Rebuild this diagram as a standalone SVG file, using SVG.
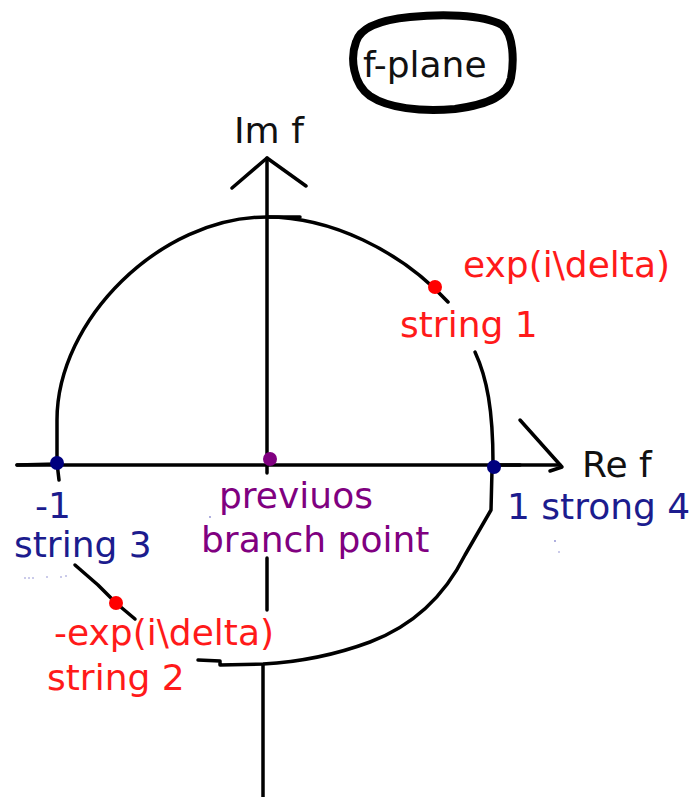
<svg xmlns="http://www.w3.org/2000/svg" width="691" height="797" viewBox="0 0 691 797">
<style>
text{font-family:"DejaVu Sans","Liberation Sans",sans-serif;font-size:36px}
.k{fill:#111}
.r{fill:#ff1a1a}
.b{fill:#1c1c8e}
.p{fill:#800080}
.ln{fill:none;stroke:#000;stroke-width:3.5;stroke-linecap:round;stroke-linejoin:round}
</style>
<rect width="691" height="797" fill="#fff"/>
<g id="fplane">
<path d="M356,42 C360,28 380,20 410,17 C440,14 482,14 502,25 C514,34 514,62 511,78 C507,96 490,104 455,109 C420,112 388,108 370,96 C353,84 350,58 356,42 Z" fill="none" stroke="#000" stroke-width="8" stroke-linejoin="round"/>
<text x="363" y="77" class="k">f-plane</text>
</g>
<g id="connectors">
<path class="ln" d="M17,465 L560,465"/>
<path class="ln" d="M17,465 L57,464" stroke-width="5"/>
<path class="ln" d="M494,465 L520,465" stroke-width="5"/>
<polyline class="ln" points="520,420 562,467 550,471"/>
<path class="ln" d="M267,158 L267,473"/>
<polyline class="ln" points="232,188 267,158 306,186"/>
<path class="ln" d="M267,558 L267,610"/>
<path class="ln" d="M263,665 L263,797"/>
<path class="ln" d="M59,480 L57,463 L57,420 C57,320 160,217 267,217 C330,217 400,250 448,302"/>
<path class="ln" d="M267,217 L300,217"/>
<path class="ln" d="M475,352 C487,378 493,410 493,463"/>
<path class="ln" d="M492,470 L491,510 L465,555 C445,595 415,625 370,642 C335,655 300,662 263,664 L220,665 L220,661 L198,660"/>
<path class="ln" d="M75,565 L98,585 L116,603 L135,619"/>
</g>
<g id="node-minus1">
<circle cx="57" cy="463" r="7" fill="#00007f"/>
<text x="35" y="518" class="b">-1</text>
<text x="14" y="557" class="b">string 3</text>
</g>
<g id="node-branch">
<circle cx="270" cy="459" r="7" fill="#800080"/>
<text x="219" y="508" class="p">previuos</text>
<text x="201" y="552" class="p">branch point</text>
</g>
<g id="node-1">
<circle cx="494" cy="467" r="7" fill="#00007f"/>
<text x="507" y="519" class="b">1 strong 4</text>
</g>
<g id="node-string1">
<circle cx="435" cy="287" r="7" fill="#ff0000"/>
<text x="463" y="277" class="r">exp(i\delta)</text>
<text x="400" y="337" class="r">string 1</text>
</g>
<g id="node-string2">
<circle cx="116" cy="603" r="7" fill="#ff0000"/>
<text x="54" y="645" class="r">-exp(i\delta)</text>
<text x="47" y="690" class="r">string 2</text>
</g>
<g id="labels">
<text x="234" y="143" class="k">Im f</text>
<text x="582" y="477" class="k">Re f</text>
</g>
<g id="specks" fill="#8a8ad0">
<circle cx="25" cy="578" r="0.8"/><circle cx="29" cy="578" r="0.8"/><circle cx="33" cy="578" r="0.8"/><circle cx="47" cy="577" r="0.8"/><circle cx="61" cy="577" r="0.8"/><circle cx="66" cy="576" r="0.8"/>
<circle cx="555" cy="541" r="0.9"/><circle cx="559" cy="552" r="0.8"/><circle cx="210" cy="517" r="0.9"/>
</g>
</svg>
